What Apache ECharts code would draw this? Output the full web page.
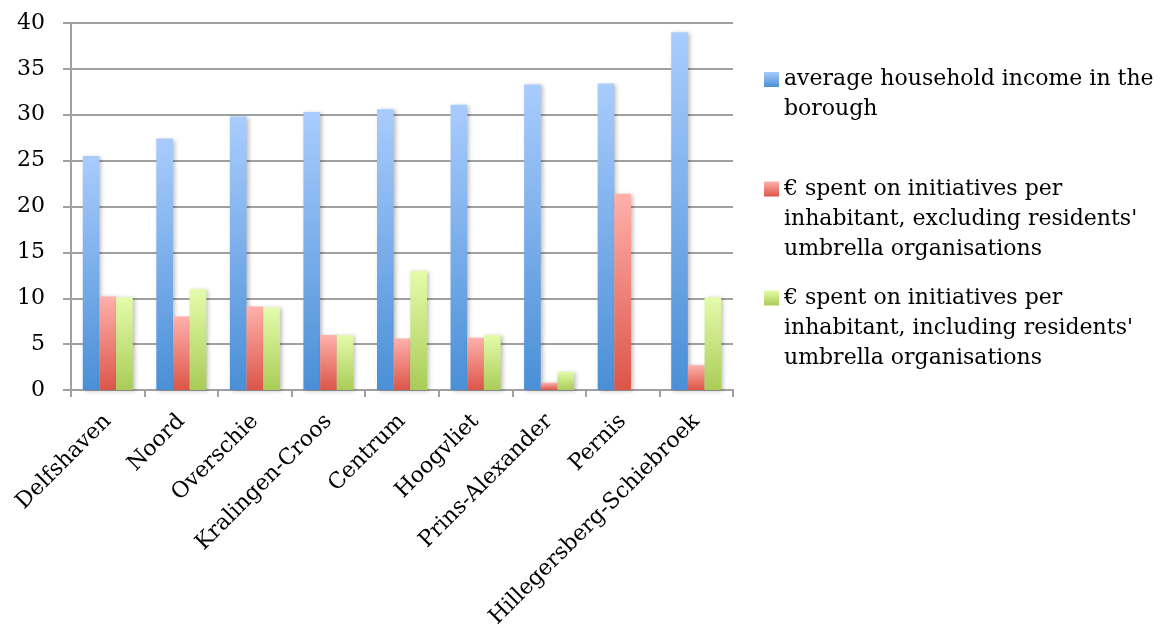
<!DOCTYPE html>
<html>
<head>
<meta charset="utf-8">
<script src="https://cdn.jsdelivr.net/npm/echarts@6/dist/echarts.min.js"></script>
<style>
  html, body { margin: 0; padding: 0; background: #fff; }
  #chart { width: 1166px; height: 628px; }
</style>
</head>
<body>
<div id="chart"></div>
<script>
// Rotterdam boroughs
const boroughs = ['Delfshaven', 'Noord', 'Overschie', 'Kralingen-Croos', 'Centrum',
  'Hoogvliet', 'Prins-Alexander', 'Pernis', 'Hillegersberg-Schiebroek'];

const householdIncome = [25.5, 27.4, 29.8, 30.3, 30.6, 31.1, 33.3, 33.4, 39.0];
const spentExclUmbrella = [10.2, 8.0, 9.1, 6.0, 5.6, 5.7, 0.8, 21.4, 2.7];
const spentInclUmbrella = [10.1, 11.0, 9.0, 6.0, 13.0, 6.0, 2.0, 0, 10.1];

const yTicks = [0, 5, 10, 15, 20, 25, 30, 35, 40];

const seriesNames = [
  'average household income in the borough',
  "€ spent on initiatives per inhabitant, excluding residents' umbrella organisations",
  "€ spent on initiatives per inhabitant, including residents' umbrella organisations"
];
const legendLines = [
  ['average household income in the', 'borough'],
  ['€ spent on initiatives per', "inhabitant, excluding residents'", 'umbrella organisations'],
  ['€ spent on initiatives per', "inhabitant, including residents'", 'umbrella organisations']
];

const FONT = 'DejaVu Serif';
const LINE_H = 30;

function grad(top, bottom) {
  return new echarts.graphic.LinearGradient(0, 0, 0, 1, [
    { offset: 0, color: top }, { offset: 1, color: bottom }
  ]);
}
const fills = [
  grad('#a9ccfd', '#4a8fd6'),
  grad('#ffb0ab', '#dc5548'),
  grad('#e4fcab', '#a9cc57')
];
const iconFills = [
  grad('#a9ccfd', '#4a8fd6'),
  grad('#ffb0ab', '#dc5548'),
  grad('#e4fcab', '#a9cc57')
];

const valueSets = [householdIncome, spentExclUmbrella, spentInclUmbrella];

// Each legend entry: swatch beside the first line of a wrapped label.
// Blank lines before the label keep the swatch level with its first line.
const swatchCentres = [79.5, 189, 298];
const legends = seriesNames.map((name, i) => {
  const lines = legendLines[i];
  const n = lines.length;
  const text = new Array(n - 1).fill(' ').concat(lines).join('\n');
  return {
    show: true,
    left: 764,
    top: swatchCentres[i] - (2 * n - 1) * LINE_H / 2,
    padding: 0,
    orient: 'vertical',
    itemWidth: 15,
    itemHeight: 15,
    itemGap: 0,
    selectedMode: false,
    data: [{ name: name, icon: 'rect', itemStyle: { color: iconFills[i] } }],
    formatter: () => text,
    textStyle: { fontFamily: FONT, fontSize: 22, lineHeight: LINE_H, color: '#000' }
  };
});

const chart = echarts.init(document.getElementById('chart'), null, { renderer: 'canvas' });
chart.setOption({
  animation: false,
  backgroundColor: '#ffffff',
  legend: legends,
  grid: {
    left: 71, right: 433, top: 23, bottom: 238,
    containLabel: false,
    outerBoundsMode: 'none'
  },
  xAxis: {
    type: 'category',
    data: boroughs,
    axisLine: { lineStyle: { color: '#a0a0a0', width: 2 } },
    axisTick: { show: true, length: 7, alignWithLabel: false, lineStyle: { color: '#a0a0a0', width: 2 } },
    axisLabel: {
      rotate: 45, interval: 0, margin: 28,
      fontFamily: FONT, fontSize: 22, color: '#000'
    }
  },
  yAxis: {
    type: 'value',
    min: yTicks[0],
    max: yTicks[yTicks.length - 1],
    interval: yTicks[1] - yTicks[0],
    axisLine: { show: true, lineStyle: { color: '#a0a0a0', width: 2 } },
    axisTick: { show: true, length: 8, lineStyle: { color: '#a0a0a0', width: 2 } },
    splitLine: { lineStyle: { color: '#a0a0a0', width: 2 } },
    axisLabel: { margin: 26, fontFamily: FONT, fontSize: 22, color: '#000' }
  },
  series: seriesNames.map((name, i) => ({
    name: name,
    type: 'bar',
    data: valueSets[i],
    barGap: '0%',
    barCategoryGap: '32%',
    itemStyle: {
      color: fills[i],
      shadowBlur: 4,
      shadowOffsetX: 2,
      shadowOffsetY: 1,
      shadowColor: 'rgba(0,0,0,0.25)'
    }
  }))
});
</script>
</body>
</html>
